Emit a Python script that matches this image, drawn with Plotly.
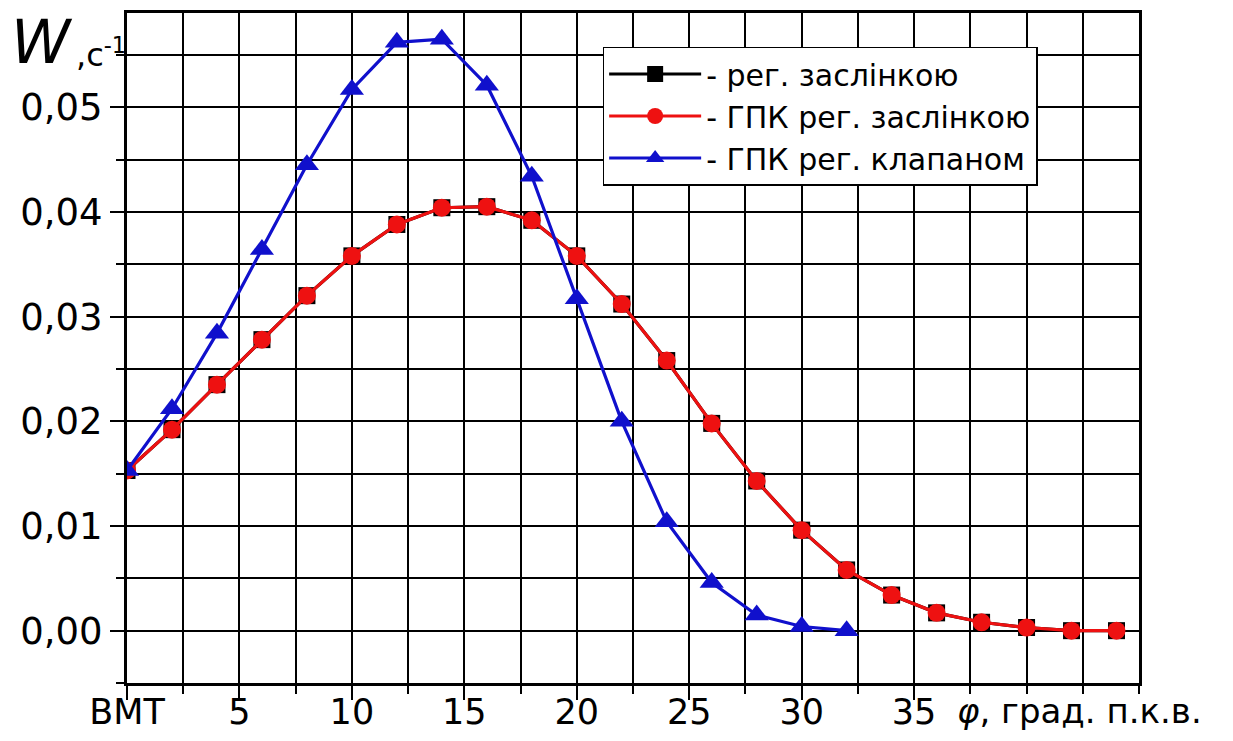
import plotly.graph_objects as go

# Data
phi_valve = [0, 2, 4, 6, 8, 10, 12, 14, 16, 18, 20, 22, 24, 26, 28, 30, 32]
w_valve = [0.0153, 0.0212, 0.0284, 0.0364, 0.0445, 0.0517, 0.0562, 0.0565, 0.0521,
           0.0434, 0.0317, 0.0200, 0.0104, 0.0046, 0.0015, 0.0004, 0.0000]

phi_flap = [0, 2, 4, 6, 8, 10, 12, 14, 16, 18, 20, 22, 24, 26, 28, 30, 32, 34, 36, 38, 40, 42, 44]
w_flap = [0.0153, 0.0192, 0.0235, 0.0278, 0.0320, 0.0358, 0.0388, 0.0404, 0.0405, 0.0392,
          0.0358, 0.0312, 0.0258, 0.0198, 0.0143, 0.0096, 0.0058, 0.0034, 0.0017, 0.0008,
          0.0003, 0.0000, 0.0000]
w_gpk_flap = [0.0153, 0.0192, 0.0235, 0.0278, 0.0320, 0.0358, 0.0388, 0.0404, 0.0405, 0.0392,
              0.0358, 0.0312, 0.0258, 0.0198, 0.0143, 0.0096, 0.0058, 0.0034, 0.0017, 0.0008,
              0.0003, 0.0000, 0.0000]

series_names = ["- рег. заслінкою", "- ГПК рег. заслінкою", "- ГПК рег. клапаном"]

x_tickvals = [0, 5, 10, 15, 20, 25, 30, 35]
x_ticktext = ["ВМТ", "5", "10", "15", "20", "25", "30", "35"]
y_tickvals = [0.00, 0.01, 0.02, 0.03, 0.04, 0.05]
y_ticktext = ["0,00", "0,01", "0,02", "0,03", "0,04", "0,05"]

FONT = "DejaVu Sans, Liberation Sans, sans-serif"

fig = go.Figure()
fig.add_trace(go.Scatter(
    x=phi_flap, y=w_flap, name=series_names[0], mode="lines+markers",
    line=dict(color="black", width=3.2),
    marker=dict(symbol="square", size=17, color="black"),
))
fig.add_trace(go.Scatter(
    x=phi_flap, y=w_gpk_flap, name=series_names[1], mode="lines+markers",
    line=dict(color="#ee1111", width=3.2),
    marker=dict(symbol="circle", size=18, color="#ee1111"),
))
fig.add_trace(go.Scatter(
    x=phi_valve, y=w_valve, name=series_names[2], mode="lines+markers",
    line=dict(color="#1010cc", width=3.2),
    marker=dict(symbol="triangle-up", size=21, color="#1010cc"),
))

fig.update_layout(
    width=1217, height=725,
    margin=dict(l=119, r=86, t=5, b=50, autoexpand=False),
    paper_bgcolor="white", plot_bgcolor="white",
    font=dict(family=FONT, color="black"),
    legend=dict(
        x=0.47, y=0.95, xanchor="left", yanchor="top",
        bgcolor="white", bordercolor="black", borderwidth=1.5,
        font=dict(size=30, family=FONT, color="black"),
        itemwidth=92, tracegroupgap=0,
    ),
    showlegend=True,
)

fig.update_xaxes(
    range=[0, 45], tickmode="array", tickvals=x_tickvals, ticktext=x_ticktext,
    ticks="outside", ticklen=14, tickwidth=2, tickcolor="black",
    tickfont=dict(size=35, family=FONT, color="black"),
    ticklabelstandoff=-18,
    showgrid=True, gridcolor="black", gridwidth=1.5,
    showline=True, linecolor="black", linewidth=3, mirror=True,
    zeroline=False, automargin=False,
    minor=dict(tickmode="linear", tick0=0, dtick=2.5, ticks="outside", ticklen=8,
               tickwidth=2, tickcolor="black", showgrid=True, gridcolor="black", gridwidth=1.5),
)
fig.update_yaxes(
    range=[-0.005, 0.059], tickmode="array", tickvals=y_tickvals, ticktext=y_ticktext,
    ticks="outside", ticklen=14, tickwidth=2, tickcolor="black",
    tickfont=dict(size=37, family=FONT, color="black"),
    showgrid=True, gridcolor="black", gridwidth=1.5,
    showline=True, linecolor="black", linewidth=3, mirror=True,
    zeroline=False, automargin=False,
    minor=dict(tickmode="linear", tick0=0, dtick=0.005, ticks="outside", ticklen=8,
               tickwidth=2, tickcolor="black", showgrid=True, gridcolor="black", gridwidth=1.5),
)

# Axis titles as annotations
fig.add_annotation(
    xref="paper", yref="paper", x=-0.117, y=1.012, xanchor="left", yanchor="top",
    text="<i>W</i>", showarrow=False,
    font=dict(size=60, family=FONT, color="black"),
)
fig.add_annotation(
    xref="paper", yref="paper", x=-0.052, y=0.975, xanchor="left", yanchor="top",
    text=",с<sup>-1</sup>", showarrow=False,
    font=dict(size=32, family=FONT, color="black"),
)
fig.add_annotation(
    xref="paper", yref="paper", x=0.818, y=-0.074, xanchor="left", yanchor="bottom",
    text="<i>φ</i>, град. п.к.в.", showarrow=False,
    font=dict(size=34, family=FONT, color="black"),
)

fig.write_html("out.html")
